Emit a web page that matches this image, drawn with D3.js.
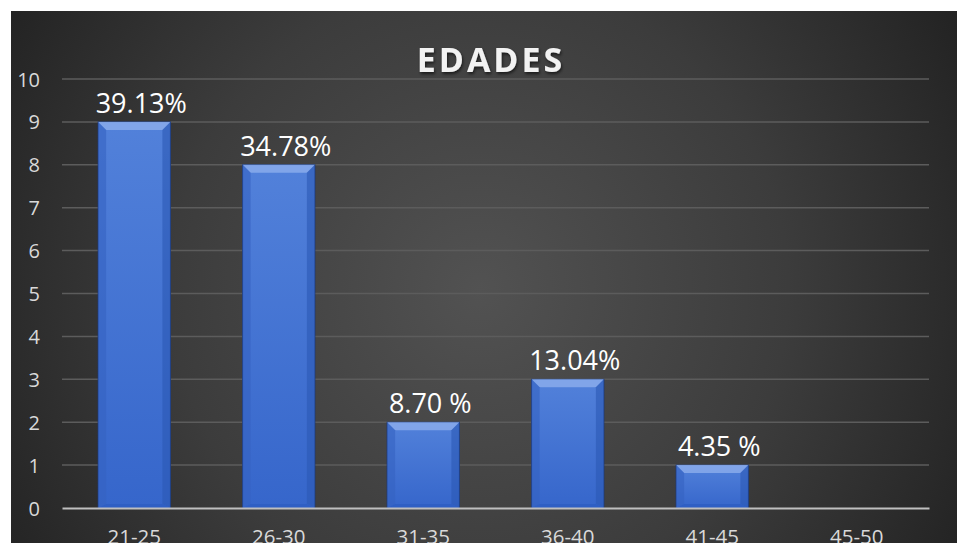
<!DOCTYPE html>
<html>
<head>
<meta charset="utf-8">
<script src="https://cdn.jsdelivr.net/npm/d3@7"></script>
<style>
  html, body { margin: 0; padding: 0; background: #fff; }
  svg { display: block; }
</style>
</head>
<body>
<div id="chart"></div>
<script>
// Edades chart: counts per age group, label shows the share
var categories = ["21-25", "26-30", "31-35", "36-40", "41-45", "45-50"];
var counts     = [9, 8, 2, 3, 1, 0];
var labels     = ["39.13%", "34.78%", "8.70 %", "13.04%", "4.35 %", ""];
var yTicks     = [0, 1, 2, 3, 4, 5, 6, 7, 8, 9, 10];

var width = 957, height = 543;
var plot = { left: 62, right: 929, top: 79, bottom: 508 };

var svg = d3.select("#chart").append("svg")
    .attr("width", width)
    .attr("height", height);

var defs = svg.append("defs");

var bg = defs.append("radialGradient")
    .attr("id", "bg")
    .attr("gradientUnits", "userSpaceOnUse")
    .attr("cx", 480).attr("cy", 290).attr("r", 560);
bg.append("stop").attr("offset", "0%").attr("stop-color", "#525252");
bg.append("stop").attr("offset", "55%").attr("stop-color", "#3c3c3c");
bg.append("stop").attr("offset", "100%").attr("stop-color", "#222222");

var barGrad = defs.append("linearGradient")
    .attr("id", "barFill")
    .attr("x1", 0).attr("y1", 0).attr("x2", 0).attr("y2", 1);
barGrad.append("stop").attr("offset", "0%").attr("stop-color", "#5281da");
barGrad.append("stop").attr("offset", "100%").attr("stop-color", "#3666cb");

var shadow = defs.append("filter").attr("id", "txtShadow")
    .attr("x", "-10%").attr("y", "-20%").attr("width", "120%").attr("height", "150%");
shadow.append("feDropShadow")
    .attr("dx", 1).attr("dy", 2).attr("stdDeviation", 1.5)
    .attr("flood-color", "#000").attr("flood-opacity", 0.6);

svg.append("rect")
    .attr("x", 11).attr("y", 11)
    .attr("width", width - 11).attr("height", height - 11)
    .attr("fill", "url(#bg)");

var x = d3.scaleBand()
    .domain(categories)
    .range([plot.left, plot.right])
    .paddingInner(0.5)
    .paddingOuter(0.25);

var y = d3.scaleLinear()
    .domain([0, 10])
    .range([plot.bottom, plot.top]);

// gridlines
svg.append("g")
  .selectAll("line")
  .data(yTicks.filter(function (d) { return d > 0; }))
  .join("line")
    .attr("x1", plot.left).attr("x2", plot.right)
    .attr("y1", function (d) { return y(d); })
    .attr("y2", function (d) { return y(d); })
    .attr("stroke", "#5c5c5c")
    .attr("stroke-width", 1.5);

// y axis labels
var yAxis = d3.axisLeft(y).tickValues(yTicks).tickSize(0).tickPadding(0);
var yg = svg.append("g")
    .attr("transform", "translate(40,0)")
    .call(yAxis)
    .attr("font-family", "'Open Sans', sans-serif");
yg.select(".domain").remove();
yg.selectAll("text")
    .attr("fill", "#d9d9d9")
    .attr("font-size", 20)
    .attr("dy", "0.35em");

// bars with a bevel look
var bars = svg.append("g")
  .selectAll("g")
  .data(categories.map(function (c, i) { return { cat: c, value: counts[i], label: labels[i] }; })
        .filter(function (d) { return d.value > 0; }))
  .join("g");

bars.append("rect")
    .attr("x", function (d) { return x(d.cat); })
    .attr("y", function (d) { return y(d.value); })
    .attr("width", x.bandwidth())
    .attr("height", function (d) { return y(0) - y(d.value); })
    .attr("fill", "url(#barFill)")
    .attr("stroke", "#1e3a78")
    .attr("stroke-width", 1);

var bevel = 8;
// top highlight
bars.append("path")
    .attr("d", function (d) {
      var x0 = x(d.cat), x1 = x0 + x.bandwidth(), t = y(d.value);
      return "M" + x0 + "," + t + "L" + x1 + "," + t +
             "L" + (x1 - bevel) + "," + (t + bevel) + "L" + (x0 + bevel) + "," + (t + bevel) + "Z";
    })
    .attr("fill", "#86a8ea")
    .attr("opacity", 0.9);
// sides
bars.append("path")
    .attr("d", function (d) {
      var x0 = x(d.cat), t = y(d.value), b = y(0);
      return "M" + x0 + "," + t + "L" + (x0 + bevel) + "," + (t + bevel) +
             "L" + (x0 + bevel) + "," + (b - 4) + "L" + x0 + "," + b + "Z";
    })
    .attr("fill", "#3563c2").attr("opacity", 0.6);
bars.append("path")
    .attr("d", function (d) {
      var x1 = x(d.cat) + x.bandwidth(), t = y(d.value), b = y(0);
      return "M" + x1 + "," + t + "L" + (x1 - bevel) + "," + (t + bevel) +
             "L" + (x1 - bevel) + "," + (b - 4) + "L" + x1 + "," + b + "Z";
    })
    .attr("fill", "#2b58b4").attr("opacity", 0.6);
// bottom edge
bars.append("path")
    .attr("d", function (d) {
      var x0 = x(d.cat), x1 = x0 + x.bandwidth(), b = y(0);
      return "M" + x0 + "," + b + "L" + (x0 + bevel) + "," + (b - 4) +
             "L" + (x1 - bevel) + "," + (b - 4) + "L" + x1 + "," + b + "Z";
    })
    .attr("fill", "#2f5fc4");

// data labels
bars.append("text")
    .attr("x", function (d) { return x(d.cat) + x.bandwidth() / 2 + 7; })
    .attr("y", function (d) { return y(d.value) - 9; })
    .attr("text-anchor", "middle")
    .attr("fill", "#ffffff")
    .attr("font-family", "'Open Sans', sans-serif")
    .attr("font-size", 27)
    .text(function (d) { return d.label; });

// x axis
var xAxis = d3.axisBottom(x).tickSize(0).tickPadding(0);
var xg = svg.append("g")
    .attr("transform", "translate(0," + plot.bottom + ")")
    .call(xAxis)
    .attr("font-family", "'Open Sans', sans-serif");
xg.select(".domain")
    .attr("stroke", "#bfbfbf")
    .attr("stroke-width", 2);
xg.selectAll("text")
    .attr("fill", "#d9d9d9")
    .attr("font-size", 20.5)
    .attr("dy", 0)
    .attr("y", 36);

// title
svg.append("text")
    .attr("x", 491)
    .attr("y", 72)
    .attr("text-anchor", "middle")
    .attr("fill", "#f2f2f2")
    .attr("filter", "url(#txtShadow)")
    .attr("font-family", "'Open Sans', sans-serif")
    .attr("font-weight", "bold")
    .attr("font-size", 34)
    .style("letter-spacing", "3px")
    .text("EDADES");
</script>
</body>
</html>
